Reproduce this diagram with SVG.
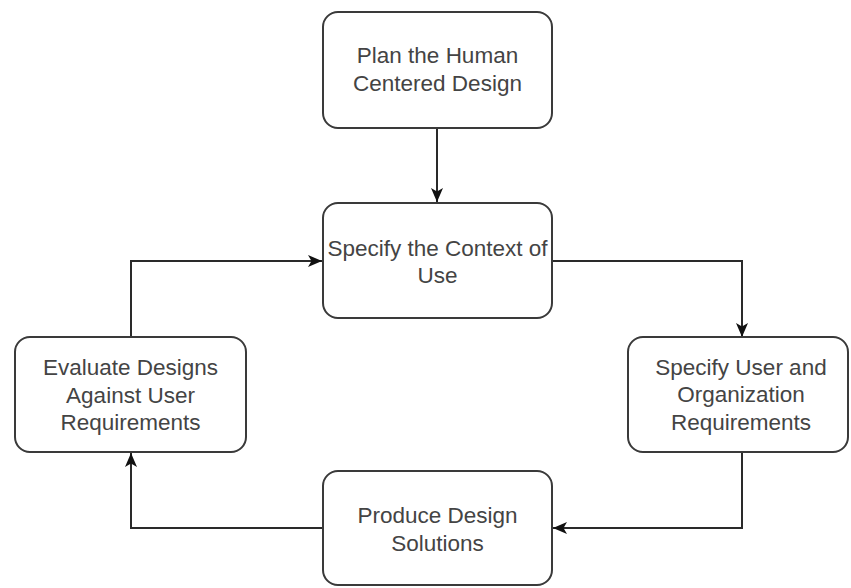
<svg xmlns="http://www.w3.org/2000/svg" width="851" height="588" viewBox="0 0 851 588">
  <style>
    .box { fill: #ffffff; stroke: #3a3a3a; stroke-width: 2; }
    .label { font-family: "Liberation Sans", Arial, sans-serif; font-size: 22.5px; fill: #444444; text-anchor: middle; }
    .edge { fill: none; stroke: #2a2a2a; stroke-width: 2; }
  </style>
  <defs>
    <marker id="arrow" viewBox="0 0 14 12" refX="14" refY="6" markerWidth="14" markerHeight="12" markerUnits="userSpaceOnUse" orient="auto">
      <path d="M0,0 L14,6 L0,12 L3.5,6 Z" fill="#111111"/>
    </marker>
  </defs>
  <rect width="851" height="588" fill="#ffffff"/>

  <g id="connectors">
    <path class="edge" d="M437,128 L437,202" marker-end="url(#arrow)"/>
    <path class="edge" d="M553,261 L742,261 L742,337" marker-end="url(#arrow)"/>
    <path class="edge" d="M742,452 L742,528 L553,528" marker-end="url(#arrow)"/>
    <path class="edge" d="M323,528 L131,528 L131,453" marker-end="url(#arrow)"/>
    <path class="edge" d="M131,337 L131,261 L322,261" marker-end="url(#arrow)"/>
  </g>

  <g id="plan">
    <rect class="box" x="323" y="12" width="229" height="116" rx="15"/>
    <text class="label" x="437.5" y="63">Plan the Human</text>
    <text class="label" x="437.5" y="91">Centered Design</text>
  </g>

  <g id="context">
    <rect class="box" x="323" y="203" width="229" height="115" rx="15"/>
    <text class="label" x="437.5" y="256">Specify the Context of</text>
    <text class="label" x="437.5" y="283">Use</text>
  </g>

  <g id="requirements">
    <rect class="box" x="628" y="337" width="220" height="115" rx="15"/>
    <text class="label" x="741" y="375">Specify User and</text>
    <text class="label" x="741" y="402">Organization</text>
    <text class="label" x="741" y="430">Requirements</text>
  </g>

  <g id="solutions">
    <rect class="box" x="323" y="471" width="229" height="114" rx="15"/>
    <text class="label" x="437.5" y="523">Produce Design</text>
    <text class="label" x="437.5" y="551">Solutions</text>
  </g>

  <g id="evaluate">
    <rect class="box" x="15" y="337" width="231" height="115" rx="15"/>
    <text class="label" x="130.5" y="375">Evaluate Designs</text>
    <text class="label" x="130.5" y="403">Against User</text>
    <text class="label" x="130.5" y="430">Requirements</text>
  </g>
</svg>
